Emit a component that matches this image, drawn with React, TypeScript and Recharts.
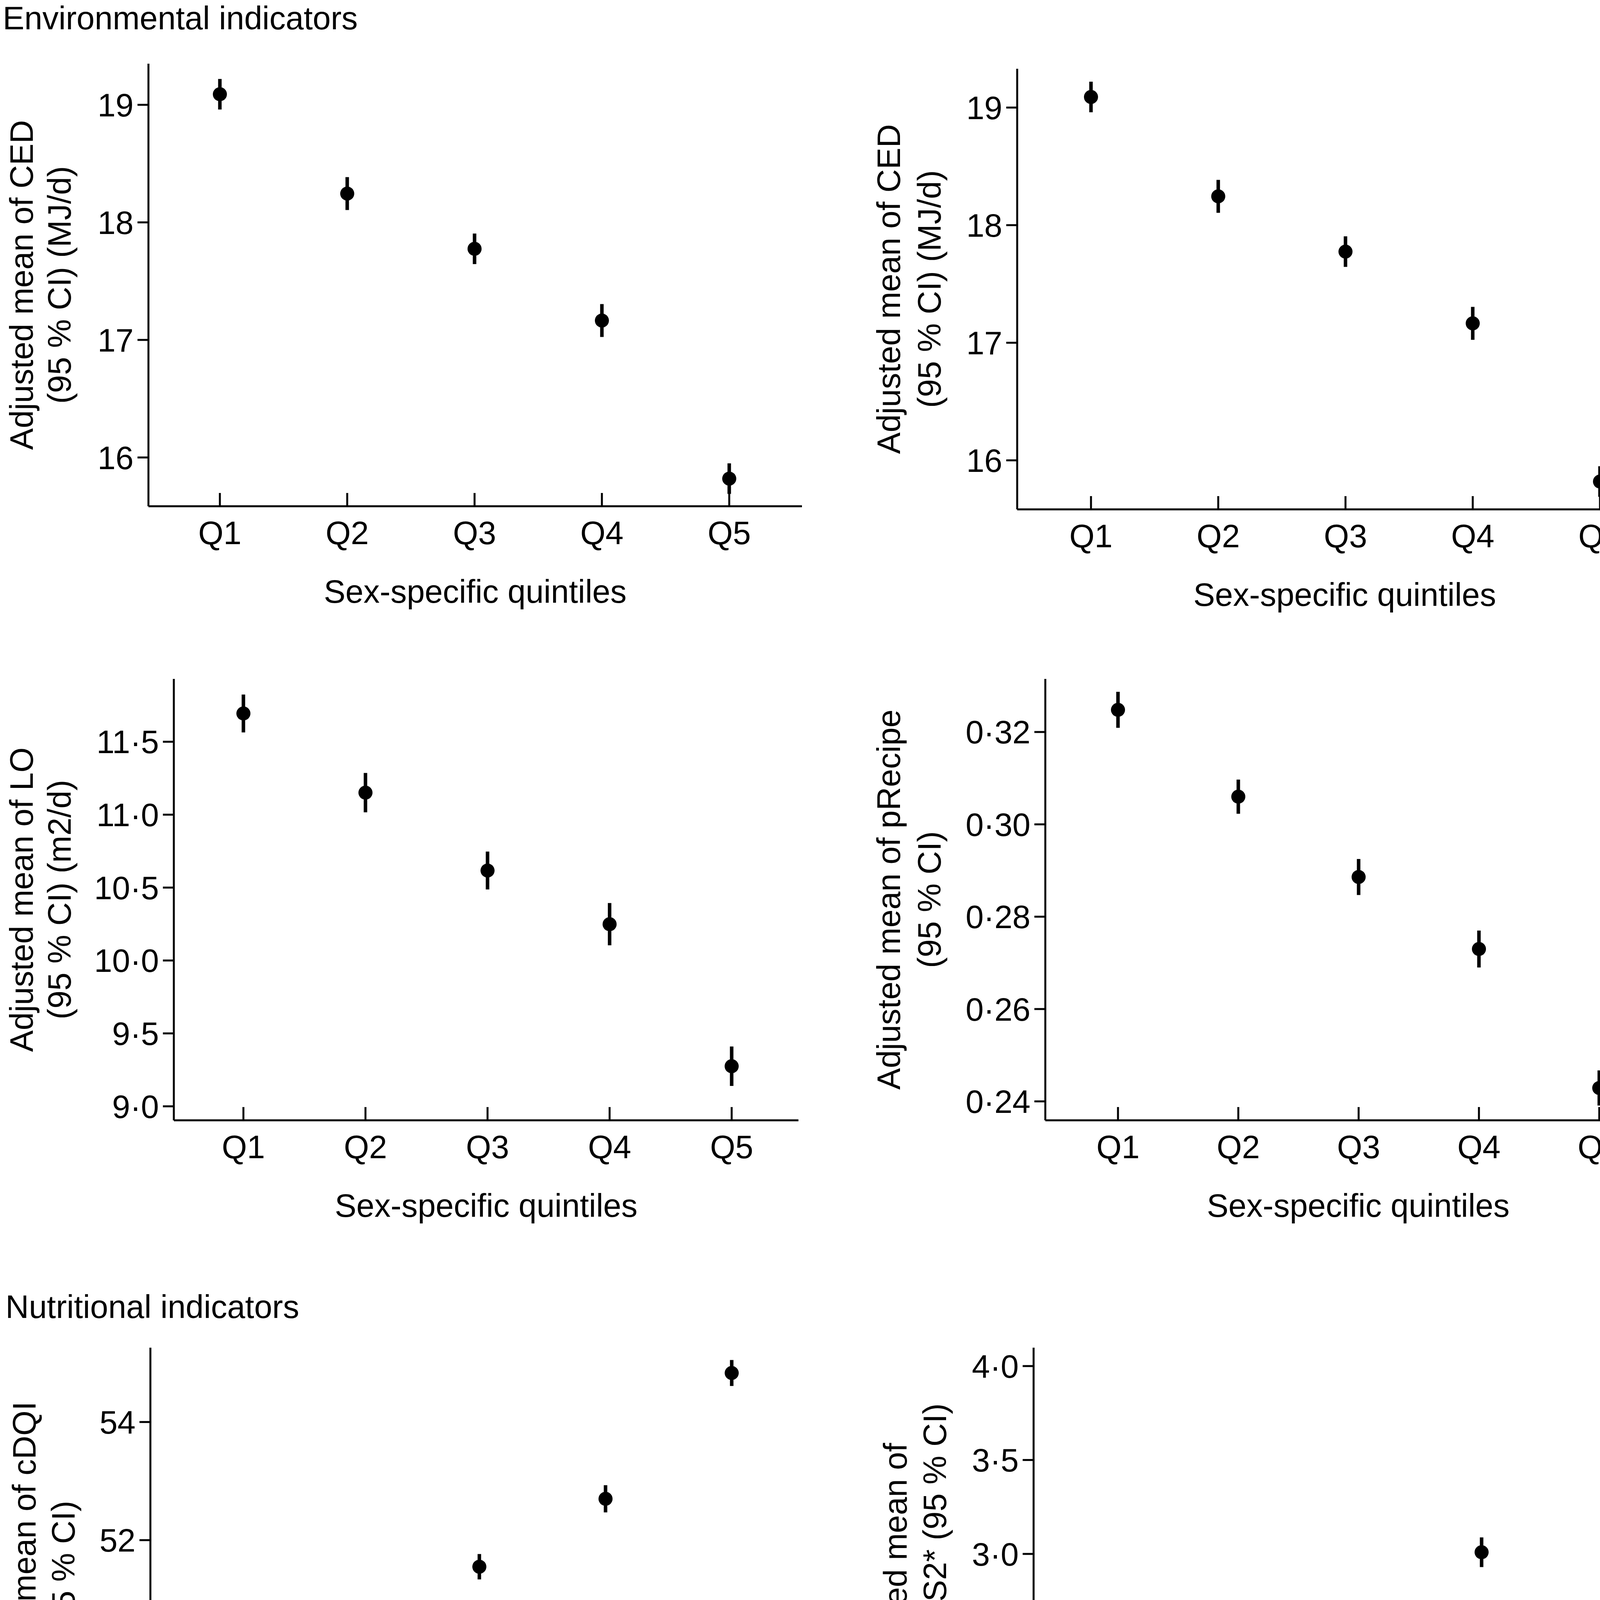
import React from 'react';
import { ScatterChart, Scatter, XAxis, YAxis, ErrorBar, Label } from 'recharts';

const QUINTILES = ['Q1', 'Q2', 'Q3', 'Q4', 'Q5'];

// adjusted means and 95 % CI half-widths per quintile
const CED_MEAN = [19.09, 18.245, 17.775, 17.165, 15.82];
const CED_CI = [0.13, 0.14, 0.13, 0.14, 0.13];
const LO_MEAN = [11.694, 11.151, 10.617, 10.249, 9.275];
const LO_CI = [0.13, 0.135, 0.13, 0.145, 0.135];
const PRECIPE_MEAN = [0.3248, 0.306, 0.2886, 0.273, 0.2429];
const PRECIPE_CI = [0.0039, 0.0037, 0.0039, 0.004, 0.0038];
const CDQI_MEAN = [48.24, 50.35, 51.55, 52.7, 54.83];
const CDQI_CI = [0.21, 0.22, 0.215, 0.23, 0.22];
const PNNS_MEAN = [1.878, 2.322, 2.664, 3.009, 3.804];
const PNNS_CI = [0.069, 0.072, 0.069, 0.079, 0.066];
const COST_MEAN = [7.518, 7.563, 7.674, 7.776, 8.032];
const COST_CI = [0.05, 0.05, 0.048, 0.052, 0.048];
const ORGANIC_MEAN = [0.1835, 0.24, 0.278, 0.339, 0.445];
const ORGANIC_CI = [0.007, 0.0078, 0.0066, 0.007, 0.0066];

// y tick values
const CED_TICKS = [16, 17, 18, 19];
const LO_TICKS = [9, 9.5, 10, 10.5, 11, 11.5];
const PRECIPE_TICKS = [0.24, 0.26, 0.28, 0.3, 0.32];
const CDQI_TICKS = [48, 50, 52, 54];
const PNNS_TICKS = [2, 2.5, 3, 3.5, 4];
const COST_TICKS = [7.6, 7.8, 8.0];
const ORGANIC_TICKS = [0.2, 0.3, 0.4];

const FONT = "'Liberation Sans', Arial, Helvetica, sans-serif";
const FS = 83;
const COL_W = 2165;

const toRows = (mean: number[], ci: number[]) =>
  QUINTILES.map((_, i) => ({ x: i + 1, y: mean[i], err: ci[i] }));

const dot = (p: any) => <circle cx={p.cx} cy={p.cy} r={18} fill="#000" />;

type PanelProps = {
  col: number;
  plotTop: number;
  plotBottom: number;
  axisX: number;
  axisEnd: number;
  xDomain: [number, number];
  yDomain: [number, number];
  ticks: number[];
  decimals: number;
  mean: number[];
  ci: number[];
  lines: string[];
  offsets: number[];
};

const Panel = (p: PanelProps) => {
  const left = p.col * COL_W;
  const padTop = 60;
  const padBottom = 40;
  const xh = 247;
  const height = p.plotBottom - p.plotTop + padTop + xh + padBottom;
  const yw = p.axisX - left;
  const renderYLabel = (props: any) => {
    const vb = props.viewBox;
    const cy = vb.y + vb.height / 2;
    const ax = vb.x + vb.width;
    return (
      <g>
        {p.lines.map((t, i) => {
          const lx = ax - p.offsets[i];
          return (
            <text key={i} x={lx} y={cy} transform={`rotate(-90 ${lx} ${cy})`} textAnchor="middle"
              dominantBaseline="central" fontSize={FS} fontFamily={FONT} fill="#000">{t}</text>
          );
        })}
      </g>
    );
  };
  return (
    <div style={{ position: 'absolute', left, top: p.plotTop - padTop }}>
      <ScatterChart width={COL_W} height={height}
        margin={{ top: padTop, right: left + COL_W - p.axisEnd, bottom: padBottom, left: 0 }}>
        <XAxis type="number" dataKey="x" domain={p.xDomain} ticks={[1, 2, 3, 4, 5]} allowDataOverflow
          tickFormatter={(v: number) => QUINTILES[v - 1]} height={xh}
          axisLine={{ stroke: '#000', strokeWidth: 5 }} tickLine={{ stroke: '#000', strokeWidth: 5 }}
          tickSize={-34} tickMargin={72}
          tick={{ fontSize: FS, fontFamily: FONT, fill: '#000' }}>
          <Label value="Sex-specific quintiles" position="insideBottom" offset={0}
            style={{ fontSize: FS, fontFamily: FONT, fill: '#000' }} />
        </XAxis>
        <YAxis type="number" dataKey="y" domain={p.yDomain} ticks={p.ticks} allowDataOverflow width={yw}
          tickFormatter={(v: number) => v.toFixed(p.decimals).replace('.', '\u00b7')}
          axisLine={{ stroke: '#000', strokeWidth: 5 }} tickLine={{ stroke: '#000', strokeWidth: 5 }}
          tickSize={28} tickMargin={10}
          tick={{ fontSize: FS, fontFamily: FONT, fill: '#000' }}>
          <Label content={renderYLabel} />
        </YAxis>
        <Scatter data={toRows(p.mean, p.ci)} shape={dot} fill="#000" isAnimationActive={false}>
          <ErrorBar dataKey="err" direction="y" width={0} stroke="#000" strokeWidth={9} isAnimationActive={false} />
        </Scatter>
      </ScatterChart>
    </div>
  );
};

const Title = ({ x, top, text }: { x: number; top: number; text: string }) => (
  <div style={{ position: 'absolute', left: x, top, fontSize: FS, lineHeight: `${FS}px`,
    fontFamily: FONT, color: '#000', whiteSpace: 'nowrap' }}>{text}</div>
);

export default function App() {
  return (
    <div style={{ position: 'absolute', left: 0, top: 0, width: 4330, height: 6591, background: '#fff', overflow: 'hidden' }}>
      <Title x={7} top={5} text="Environmental indicators" />
      <Title x={14} top={3304} text="Nutritional indicators" />
      <Title x={7} top={5037} text="Monetary cost of diet" />
      <Title x={2251} top={5037} text="Share of organic food in the diet" />

      <Panel col={0} plotTop={163} plotBottom={1296} axisX={380} axisEnd={2053}
        xDomain={[0.439, 5.571]} yDomain={[15.585, 19.35]} ticks={CED_TICKS} decimals={0}
        mean={CED_MEAN} ci={CED_CI} lines={['Adjusted mean of CED', '(95 % CI) (MJ/d)']} offsets={[325, 228]} />
      <Panel col={1} plotTop={176} plotBottom={1304} axisX={2604} axisEnd={4281}
        xDomain={[0.42, 5.568]} yDomain={[15.583, 19.33]} ticks={CED_TICKS} decimals={0}
        mean={CED_MEAN} ci={CED_CI} lines={['Adjusted mean of CED', '(95 % CI) (MJ/d)']} offsets={[329, 225]} />

      <Panel col={0} plotTop={1738} plotBottom={2868} axisX={445} axisEnd={2044}
        xDomain={[0.43, 5.547]} yDomain={[8.904, 11.931]} ticks={LO_TICKS} decimals={1}
        mean={LO_MEAN} ci={LO_CI} lines={['Adjusted mean of LO', '(95 % CI) (m2/d)']} offsets={[390, 293]} />
      <Panel col={1} plotTop={1738} plotBottom={2868} axisX={2676} axisEnd={4278}
        xDomain={[0.396, 5.597]} yDomain={[0.2359, 0.3315]} ticks={PRECIPE_TICKS} decimals={2}
        mean={PRECIPE_MEAN} ci={PRECIPE_CI} lines={['Adjusted mean of pRecipe', '(95 % CI)']} offsets={[401, 297]} />

      <Panel col={0} plotTop={3450} plotBottom={4584} axisX={385} axisEnd={2067}
        xDomain={[0.393, 5.6]} yDomain={[47.759, 55.259]} ticks={CDQI_TICKS} decimals={0}
        mean={CDQI_MEAN} ci={CDQI_CI} lines={['Adjusted mean of cDQI', '(95 % CI)']} offsets={[323, 223]} />
      <Panel col={1} plotTop={3450} plotBottom={4584} axisX={2646} axisEnd={4285}
        xDomain={[0.434, 5.53]} yDomain={[1.74, 4.098]} ticks={PNNS_TICKS} decimals={1}
        mean={PNNS_MEAN} ci={PNNS_CI} lines={['Adjusted mean of', 'PNNS_GS2* (95 % CI)']} offsets={[354, 253]} />

      <Panel col={0} plotTop={5183} plotBottom={6316} axisX={400} axisEnd={2060}
        xDomain={[0.421, 5.557]} yDomain={[7.446, 8.1]} ticks={COST_TICKS} decimals={1}
        mean={COST_MEAN} ci={COST_CI} lines={['Adjusted mean of daily', 'cost of diet (95 % CI) (\u20ac)']} offsets={[345, 248]} />
      <Panel col={1} plotTop={5186} plotBottom={6318} axisX={2745} axisEnd={4299}
        xDomain={[0.383, 5.597]} yDomain={[0.169, 0.46]} ticks={ORGANIC_TICKS} decimals={1}
        mean={ORGANIC_MEAN} ci={ORGANIC_CI}
        lines={['Adjusted mean of organic', 'food in the diet (95 % CI)', '(%, grams)']} offsets={[442, 345, 251]} />
    </div>
  );
}
